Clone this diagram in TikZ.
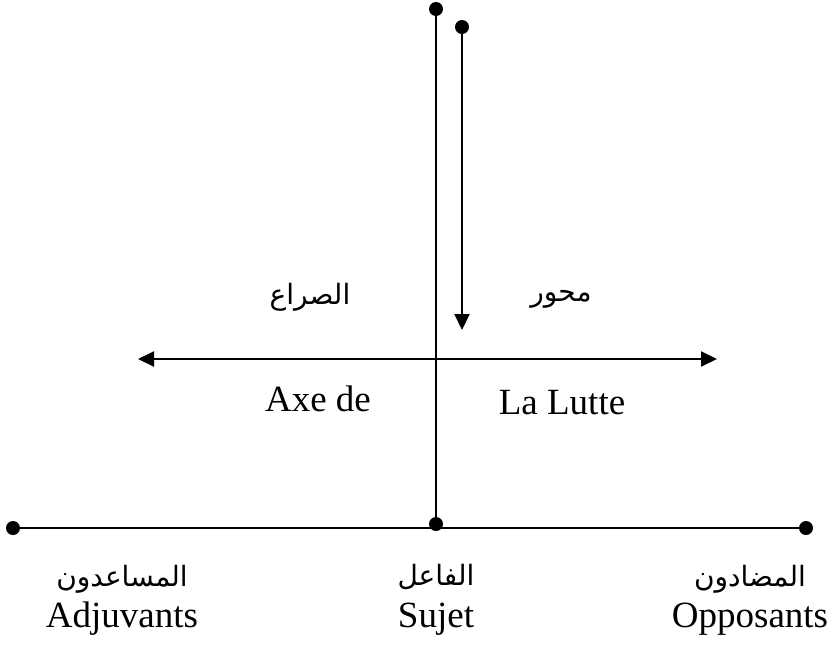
\documentclass[tikz,border=0pt]{standalone}
\usepackage{fontspec}
\setmainfont{Liberation Serif}
\newfontfamily\arabicfont[Script=Arabic]{DejaVu Sans}
\TeXXeTstate=1
\usetikzlibrary{arrows.meta}

\begin{document}
\begin{tikzpicture}[x=1pt, y=-1pt,
  dot/.style={circle, fill, inner sep=0pt, minimum size=14pt},
  ln/.style={line width=2pt},
  arr/.style={line width=2pt, -{Triangle[length=16pt, width=15pt]}},
  darr/.style={line width=2pt, {Triangle[length=16pt, width=15pt]}-{Triangle[length=16pt, width=15pt]}},
  lat/.style={font=\fontsize{37}{40}\selectfont, inner sep=0pt},
  ar/.style={font=\arabicfont\fontsize{28}{32}\selectfont, inner sep=0pt}
]
  \useasboundingbox (0,0) rectangle (831,662);

  % dots
  \node[dot] (topdot) at (436,9) {};
  \node[dot] (sujetdot) at (436,524) {};
  \node[dot] (adjdot) at (13,528) {};
  \node[dot] (oppdot) at (806,528) {};
  \node[dot] (axedot) at (462,27) {};
  \coordinate (axetip) at (462,330);
  \coordinate (lutw) at (138,359);
  \coordinate (lute) at (717,359);

  % lines
  \draw[ln] (topdot.center) -- (sujetdot.center);
  \draw[ln] (adjdot.center) -- (oppdot.center);
  \draw[arr] (axedot.center) -- (axetip);
  \draw[darr] (lutw) -- (lute);

  % labels
  \node[ar] (sirae) at (310,297) {\beginR الصراع\endR};
  \node[ar] (mihwar) at (561,299) {\beginR محور\endR};
  \node[lat] (axede) at (318,399) {Axe de};
  \node[lat] (lalutte) at (562,403) {La Lutte};

  \node[ar] (musaidun) at (122,579) {\beginR المساعدون\endR};
  \node[lat] (adjuvants) at (122,619) {Adjuvants};
  \node[ar] (fail) at (436,577) {\beginR الفاعل\endR};
  \node[lat] (sujet) at (436,619) {Sujet};
  \node[ar] (mudadun) at (750,579) {\beginR المضادون\endR};
  \node[lat] (opposants) at (750,619) {Opposants};
\end{tikzpicture}
\end{document}
